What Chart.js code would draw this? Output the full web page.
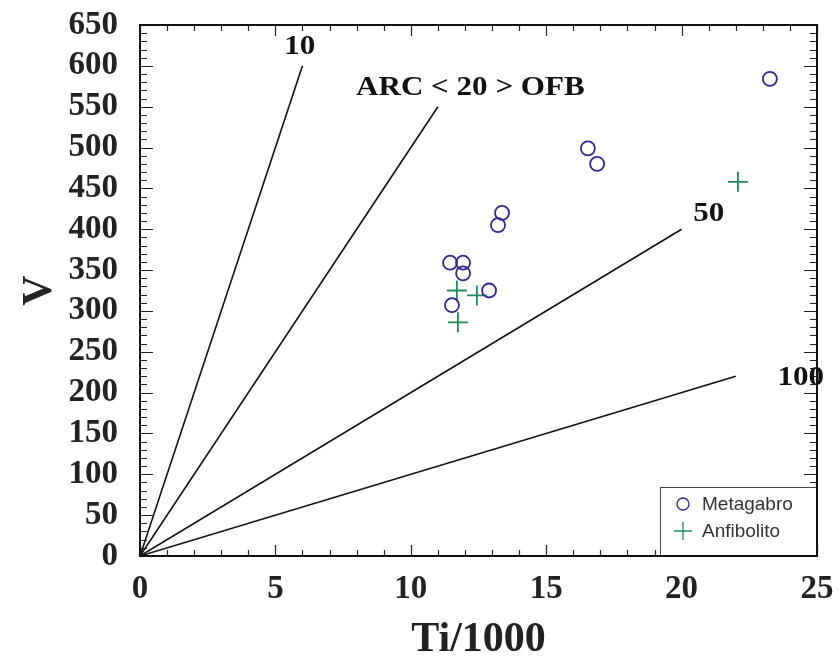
<!DOCTYPE html>
<html><head><meta charset="utf-8">
<script src="https://cdn.jsdelivr.net/npm/chart.js@4.4.1/dist/chart.umd.min.js"></script>
<style>html,body{margin:0;padding:0;background:#fff}#wrap{width:838px;height:665px}</style>
</head><body><div id="wrap"><canvas id="c" width="838" height="665"></canvas></div>
<script>
// Data
const metagabroTi = [11.45, 11.93, 11.93, 11.52, 12.89, 13.37, 13.22, 16.54, 16.88, 23.26];
const metagabroV  = [359, 359, 346, 307, 325, 420, 405, 499, 480, 584];
const anfibolitoTi = [11.70, 12.44, 11.74, 22.08];
const anfibolitoV  = [325, 319, 286, 458];
// Ti/V reference lines: from origin to an end point
const ratioValues = [10, 20, 50, 100];
const ratioEndTi  = [6, 11, 20, 22];
const ratioEndV   = [600, 550, 400, 220];
const ratioLabels = ['10', 'ARC < 20 > OFB', '50', '100'];
const ratioLabelTi = [5.9, 12.2, 21.0, 24.4];
const ratioLabelV  = [623, 573, 419, 218];
const xTickValues = [0, 5, 10, 15, 20, 25];
const yTickValues = [0, 50, 100, 150, 200, 250, 300, 350, 400, 450, 500, 550, 600, 650];
const seriesNames = ['Metagabro', 'Anfibolito'];

const circleColor = '#33288a';
const crossColor = '#1e8c5a';
const serif = "'Liberation Serif', 'Times New Roman', serif";

const lineSets = ratioValues.map((r, i) => ({
  type: 'line',
  label: 'Ti/V=' + r,
  data: [{x: 0, y: 0}, {x: ratioEndTi[i], y: ratioEndV[i]}],
  borderColor: '#111',
  borderWidth: 1.6,
  pointRadius: 0,
  showLine: true,
  fill: false
}));

const framePlugin = {
  id: 'frameTicks',
  afterDatasetsDraw(chart) {
    const {ctx, chartArea: a, scales: {x, y}} = chart;
    ctx.save();
    // inward ticks
    ctx.strokeStyle = '#222';
    ctx.lineWidth = 1.2;
    ctx.beginPath();
    for (let v = 0; v <= 650; v += 10) {
      const py = Math.round(y.getPixelForValue(v)) + 0.5;
      const len = v % 50 === 0 ? 13 : 7;
      ctx.moveTo(a.left, py); ctx.lineTo(a.left + len, py);
      ctx.moveTo(a.right, py); ctx.lineTo(a.right - len, py);
    }
    for (let t = 0; t <= 25; t += 1) {
      const px = Math.round(x.getPixelForValue(t)) + 0.5;
      const len = t % 5 === 0 ? 11 : 6;
      ctx.moveTo(px, a.bottom); ctx.lineTo(px, a.bottom - len);
      ctx.moveTo(px, a.top); ctx.lineTo(px, a.top + len);
    }
    ctx.stroke();
    // line labels
    ctx.fillStyle = '#111';
    ctx.textAlign = 'center';
    ctx.textBaseline = 'middle';
    ratioLabels.forEach((t, i) => {
      ctx.save();
      ctx.translate(x.getPixelForValue(ratioLabelTi[i]), y.getPixelForValue(ratioLabelV[i]));
      ctx.scale(1.15, 1);
      ctx.font = 'bold 27px ' + serif;
      ctx.fillText(t, 0, 0);
      ctx.restore();
    });
    // legend box inside chart area (bottom-right)
    const bx = 660, by = 487;
    ctx.fillStyle = '#fff';
    ctx.fillRect(bx, by, a.right - bx, a.bottom - by);
    ctx.strokeStyle = '#444';
    ctx.lineWidth = 1;
    ctx.strokeRect(bx + 0.5, by + 0.5, a.right - bx, a.bottom - by);
    ctx.font = '19px "Liberation Sans", Arial, sans-serif';
    ctx.textAlign = 'left';
    const ds = chart.data.datasets.filter(d => seriesNames.includes(d.label));
    ds.forEach((d, i) => {
      const cy = by + 17 + i * 27;
      ctx.strokeStyle = d.borderColor; ctx.lineWidth = 1.3;
      ctx.beginPath();
      if (d.pointStyle === 'cross') { ctx.moveTo(674, cy); ctx.lineTo(692, cy); ctx.moveTo(683, cy - 9); ctx.lineTo(683, cy + 9); }
      else { ctx.arc(683, cy, 6, 0, Math.PI * 2); }
      ctx.stroke();
      ctx.fillStyle = '#333';
      ctx.fillText(d.label, 702, cy + 1);
    });
    // frame
    ctx.strokeStyle = '#111';
    ctx.lineWidth = 2;
    ctx.strokeRect(a.left, a.top, a.right - a.left, a.bottom - a.top);
    ctx.restore();
  }
};

new Chart(document.getElementById('c'), {
  type: 'scatter',
  data: {
    datasets: [
      ...lineSets,
      {
        label: seriesNames[0],
        data: metagabroTi.map((t, i) => ({x: t, y: metagabroV[i]})),
        pointStyle: 'circle',
        pointRadius: 7,
        borderColor: circleColor,
        backgroundColor: 'rgba(0,0,0,0)',
        borderWidth: 1.8
      },
      {
        label: seriesNames[1],
        data: anfibolitoTi.map((t, i) => ({x: t, y: anfibolitoV[i]})),
        pointStyle: 'cross',
        pointRadius: 10,
        borderColor: crossColor,
        backgroundColor: crossColor,
        borderWidth: 1.8
      }
    ]
  },
  options: {
    responsive: false,
    animation: false,
    devicePixelRatio: 1,
    layout: {padding: {top: 25, right: 21, left: 0, bottom: 0}},
    plugins: {legend: {display: false}, tooltip: {enabled: false}},
    scales: {
      x: {
        type: 'linear', min: 0, max: 25,
        afterBuildTicks: s => { s.ticks = xTickValues.map(v => ({value: v})); },
        afterFit: s => { s.height = 109; s.paddingLeft = 0; s.paddingRight = 0; },
        grid: {display: false},
        border: {display: false},
        ticks: {color: '#222', padding: 6, autoSkip: false, maxRotation: 0, font: {family: serif, weight: 'bold', size: 33}},
        title: {display: true, text: 'Ti/1000', color: '#222', padding: {top: 0, bottom: 0}, font: {family: serif, weight: 'bold', size: 42}}
      },
      y: {
        type: 'linear', min: 0, max: 650,
        afterBuildTicks: s => { s.ticks = yTickValues.map(v => ({value: v})); },
        afterFit: s => { s.width = 140; s.paddingTop = 0; s.paddingBottom = 0; },
        grid: {display: false},
        border: {display: false},
        ticks: {color: '#222', padding: 14, autoSkip: false, font: {family: serif, weight: 'bold', size: 33}},
        title: {display: true, text: 'V', color: '#222', padding: {top: 15, bottom: 0}, font: {family: serif, weight: 'bold', size: 42}}
      }
    }
  },
  plugins: [framePlugin]
});
</script>
</body></html>
